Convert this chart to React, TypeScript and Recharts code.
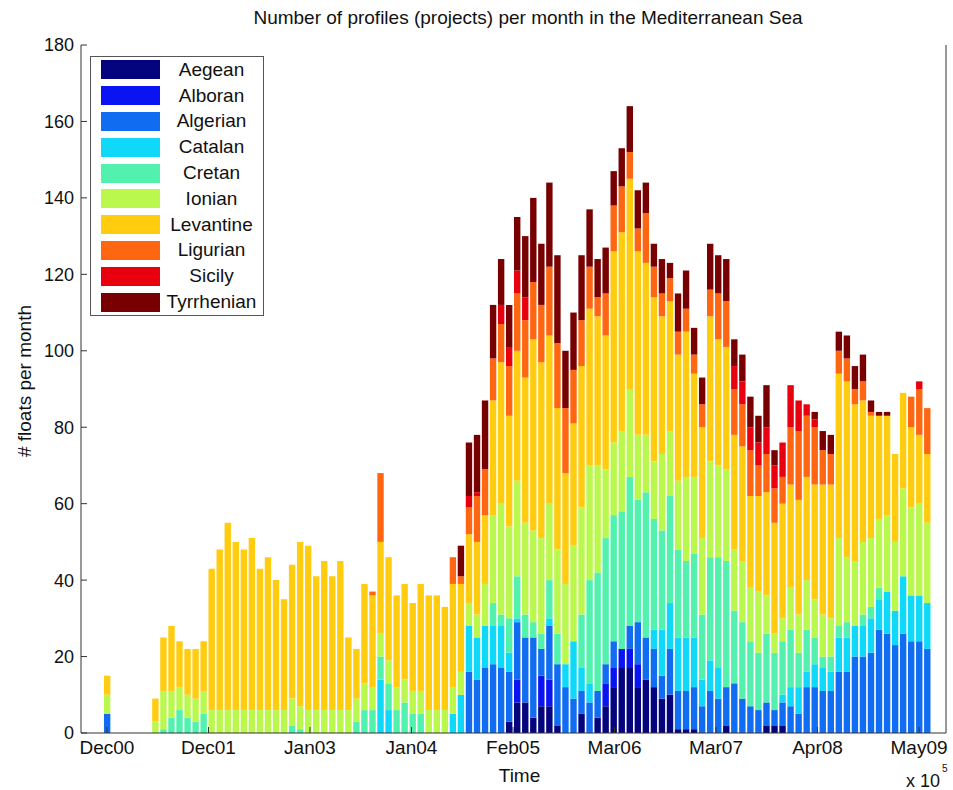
import React from "react";
import { BarChart, Bar, XAxis, YAxis, Legend, Label } from "recharts";

// Monthly profile counts per sub-basin. Index 0 = Dec 2000, last = Jun 2009.
// Rows hold twelve months each, starting from December.
const aegean = [
  0, 0, 0, 0, 0, 0, 0, 0, 0, 0, 0, 0,
  0, 0, 0, 0, 0, 0, 0, 0, 0, 0, 0, 0,
  0, 0, 0, 0, 0, 0, 0, 0, 0, 0, 0, 0,
  0, 0, 0, 0, 0, 0, 0, 0, 0, 0, 0, 0,
  0, 0, 3, 8, 8, 4, 7, 7, 2, 0, 0, 5,
  0, 4, 7, 12, 17, 17, 12, 14, 12, 9, 10, 1,
  1, 1, 0, 0, 0, 2, 0, 0, 0, 0, 2, 2,
  2, 0, 0, 0, 0, 0, 0, 0, 0, 0, 0, 0,
  0, 0, 0, 0, 0, 0, 0,
];
const alboran = [
  0, 0, 0, 0, 0, 0, 0, 0, 0, 0, 0, 0,
  0, 0, 0, 0, 0, 0, 0, 0, 0, 0, 0, 0,
  0, 0, 0, 0, 0, 0, 0, 0, 0, 0, 0, 0,
  0, 0, 0, 0, 0, 0, 0, 0, 0, 0, 0, 0,
  0, 0, 0, 6, 0, 0, 8, 7, 0, 0, 0, 0,
  0, 0, 6, 5, 5, 5, 6, 0, 0, 0, 0, 0,
  0, 0, 0, 0, 0, 0, 0, 0, 0, 0, 0, 0,
  0, 0, 0, 0, 0, 0, 0, 0, 0, 0, 0, 0,
  0, 0, 0, 0, 0, 0, 0,
];
const algerian = [
  5, 0, 0, 0, 0, 0, 0, 0, 0, 0, 0, 0,
  0, 0, 0, 0, 0, 0, 0, 0, 0, 0, 0, 0,
  0, 0, 0, 0, 0, 0, 0, 0, 0, 0, 0, 0,
  0, 0, 0, 0, 0, 0, 0, 0, 0, 16, 14, 17,
  18, 17, 13, 15, 17, 21, 7, 14, 16, 12, 9, 6,
  8, 7, 5, 7, 0, 6, 11, 11, 10, 6, 12, 10,
  10, 11, 7, 11, 9, 10, 13, 9, 7, 6, 6, 4,
  6, 7, 5, 12, 12, 11, 11, 16, 16, 20, 20, 21,
  27, 26, 23, 26, 24, 24, 22,
];
const catalan = [
  0, 0, 0, 0, 0, 0, 0, 0, 0, 0, 0, 0,
  0, 0, 0, 0, 0, 0, 0, 0, 0, 0, 0, 0,
  0, 0, 0, 0, 0, 0, 0, 0, 0, 0, 14, 6,
  0, 0, 0, 0, 0, 0, 0, 5, 10, 12, 11, 11,
  10, 11, 5, 1, 0, 0, 0, 2, 0, 6, 15, 6,
  5, 0, 0, 0, 0, 0, 0, 0, 5, 12, 12, 14,
  14, 13, 7, 8, 8, 0, 0, 0, 0, 0, 0, 0,
  2, 5, 7, 4, 6, 6, 5, 9, 9, 8, 8, 9,
  8, 11, 9, 15, 12, 12, 12,
];
const cretan = [
  0, 0, 0, 0, 0, 0, 0, 1, 4, 6, 4, 3,
  5, 0, 0, 0, 0, 0, 0, 0, 0, 0, 0, 2,
  1, 0, 0, 0, 0, 0, 0, 3, 6, 6, 6, 7,
  6, 8, 5, 5, 0, 0, 0, 0, 0, 0, 0, 0,
  6, 3, 9, 11, 6, 4, 4, 10, 8, 0, 0, 14,
  27, 31, 33, 33, 36, 39, 32, 38, 29, 26, 28, 23,
  20, 22, 17, 27, 29, 33, 19, 20, 17, 15, 18, 15,
  14, 15, 9, 11, 7, 3, 4, 3, 4, 0, 3, 3,
  3, 0, 0, 0, 0, 0, 0,
];
const ionian = [
  5, 0, 0, 0, 0, 0, 3, 10, 7, 6, 6, 6,
  6, 6, 6, 6, 6, 6, 6, 6, 6, 6, 6, 7,
  6, 6, 6, 6, 6, 6, 6, 6, 7, 6, 6, 6,
  6, 6, 6, 6, 6, 6, 6, 7, 6, 6, 6, 11,
  23, 29, 24, 25, 24, 24, 25, 20, 22, 21, 25, 28,
  30, 28, 18, 19, 21, 23, 17, 15, 15, 20, 17, 18,
  22, 20, 20, 25, 24, 24, 16, 16, 14, 16, 10, 5,
  6, 11, 10, 13, 10, 11, 10, 23, 17, 17, 19, 18,
  18, 20, 18, 23, 23, 24, 21,
];
const levantine = [
  5, 0, 0, 0, 0, 0, 6, 14, 17, 12, 12, 13,
  13, 37, 42, 49, 44, 42, 45, 37, 40, 34, 29, 35,
  43, 43, 35, 39, 35, 39, 19, 13, 26, 24, 24, 27,
  24, 25, 23, 28, 30, 30, 27, 27, 23, 18, 19, 18,
  30, 37, 29, 34, 38, 50, 46, 44, 37, 29, 32, 37,
  41, 39, 35, 50, 52, 55, 48, 45, 43, 36, 34, 33,
  38, 27, 29, 38, 33, 32, 30, 30, 24, 25, 27, 29,
  30, 27, 30, 27, 30, 34, 35, 43, 46, 41, 37, 32,
  27, 26, 23, 25, 21, 18, 18,
];
const ligurian = [
  0, 0, 0, 0, 0, 0, 0, 0, 0, 0, 0, 0,
  0, 0, 0, 0, 0, 0, 0, 0, 0, 0, 0, 0,
  0, 0, 0, 0, 0, 0, 0, 0, 0, 1, 18, 0,
  0, 0, 0, 0, 0, 0, 0, 7, 2, 7, 12, 12,
  11, 10, 13, 15, 15, 15, 15, 18, 17, 17, 14, 12,
  11, 5, 11, 12, 12, 7, 6, 13, 8, 6, 6, 6,
  6, 5, 6, 7, 12, 12, 12, 11, 12, 8, 10, 9,
  7, 15, 18, 16, 15, 9, 8, 6, 6, 4, 5, 1,
  0, 0, 0, 0, 8, 12, 12,
];
const sicily = [
  0, 0, 0, 0, 0, 0, 0, 0, 0, 0, 0, 0,
  0, 0, 0, 0, 0, 0, 0, 0, 0, 0, 0, 0,
  0, 0, 0, 0, 0, 0, 0, 0, 0, 0, 0, 0,
  0, 0, 0, 0, 0, 0, 0, 0, 0, 3, 1, 0,
  0, 5, 5, 6, 6, 0, 0, 0, 0, 0, 0, 0,
  0, 0, 0, 0, 0, 0, 0, 0, 0, 0, 0, 0,
  0, 0, 0, 0, 0, 0, 6, 6, 6, 6, 7, 6,
  9, 11, 8, 3, 2, 0, 0, 0, 0, 0, 0, 0,
  0, 0, 0, 0, 0, 2, 0,
];
const tyrrhenian = [
  0, 0, 0, 0, 0, 0, 0, 0, 0, 0, 0, 0,
  0, 0, 0, 0, 0, 0, 0, 0, 0, 0, 0, 0,
  0, 0, 0, 0, 0, 0, 0, 0, 0, 0, 0, 0,
  0, 0, 0, 0, 0, 0, 0, 0, 8, 14, 15, 18,
  14, 12, 11, 14, 16, 22, 16, 22, 23, 15, 15, 17,
  15, 10, 12, 9, 10, 12, 10, 8, 6, 9, 4, 10,
  10, 7, 7, 12, 10, 11, 7, 7, 8, 7, 11, 4,
  0, 0, 0, 0, 2, 5, 5, 5, 6, 6, 7, 3,
  1, 1, 0, 0, 0, 0, 0,
];

const REGIONS = [
  "Aegean", "Alboran", "Algerian", "Catalan", "Cretan",
  "Ionian", "Levantine", "Ligurian", "Sicily", "Tyrrhenian",
];
const COLORS = [
  "#04047e", "#0a14f2", "#106cf0", "#10d8f8", "#52f2ae",
  "#baf84e", "#ffcc10", "#ff6612", "#e8000e", "#780000",
];
const SERIES = [
  aegean, alboran, algerian, catalan, cretan,
  ionian, levantine, ligurian, sicily, tyrrhenian,
];

// date ticks, in months from Dec 2000
const tickMonths = [0, 12.625, 25.25, 37.875, 50.5, 63.125, 75.75, 88.375, 101];
const tickLabels = ["Dec00", "Dec01", "Jan03", "Jan04", "Feb05", "Mar06", "Mar07", "Apr08", "May09"];
const yTicks = [0, 20, 40, 60, 80, 100, 120, 140, 160, 180];

const TITLE = "Number of profiles (projects) per month in the Mediterranean Sea";
const X_DOMAIN: [number, number] = [-3.23, 104.35];
const FONT = '"Liberation Sans", Arial, Helvetica, sans-serif';
const AXIS = "#333";

const data = aegean.map((_, month) => {
  const row: Record<string, number> = { month };
  REGIONS.forEach((name, k) => {
    row[name] = SERIES[k][month];
  });
  return row;
});

const RegionLegend = () => (
  <div
    style={{
      width: 172,
      border: "1px solid #555",
      background: "#fff",
      fontFamily: FONT,
    }}
  >
    {REGIONS.map((name, k) => (
      <div key={name} style={{ display: "flex", alignItems: "center", height: 25.8 }}>
        <span
          style={{
            display: "inline-block",
            marginLeft: 10,
            width: 59,
            height: 19,
            background: COLORS[k],
          }}
        />
        <span style={{ flex: 1, textAlign: "center", fontSize: 19, color: "#111" }}>{name}</span>
      </div>
    ))}
  </div>
);

const YTitle = ({ viewBox }: any) => {
  const cx = viewBox.x + 4;
  const cy = viewBox.y + viewBox.height / 2 - 8;
  return (
    <text
      x={cx}
      y={cy}
      transform={`rotate(-90 ${cx} ${cy})`}
      textAnchor="middle"
      dominantBaseline="central"
      fontFamily={FONT}
      fontSize={19}
      fill="#111"
    >
      # floats per month
    </text>
  );
};

const SciNote = ({ viewBox }: any) => {
  const x = viewBox.x + viewBox.width - 40;
  const y = viewBox.y + viewBox.height - 3;
  return (
    <text x={x} y={y} fontFamily={FONT} fontSize={18} fill="#111">
      x 10
      <tspan dx={2} dy={-15} fontSize={10}>5</tspan>
    </text>
  );
};

export default function App() {
  return (
    <div style={{ position: "absolute", left: 0, top: 0, width: 953, height: 790, background: "#fff" }}>
      <div
        style={{
          position: "absolute",
          left: 528,
          top: 7,
          transform: "translateX(-50%)",
          whiteSpace: "nowrap",
          fontFamily: FONT,
          fontSize: 19,
          color: "#111",
        }}
      >
        {TITLE}
      </div>
      <BarChart
        width={953}
        height={790}
        data={data}
        margin={{ top: 45, right: 0, bottom: 0, left: 20 }}
        barCategoryGap={0}
      >
        <XAxis
          dataKey="month"
          type="number"
          domain={X_DOMAIN}
          allowDataOverflow
          ticks={tickMonths}
          interval={0}
          tickFormatter={(v: number) => tickLabels[tickMonths.indexOf(v)]}
          height={57}
          tickSize={-6}
          tickMargin={14}
          stroke={AXIS}
          tick={{ fontSize: 19, fill: "#111", fontFamily: FONT }}
        >
          <Label
            value="Time"
            position="insideBottom"
            offset={8}
            dx={6}
            style={{ fontSize: 19, fill: "#111", fontFamily: FONT }}
          />
          <Label position="insideBottomRight" content={SciNote} />
        </XAxis>
        <XAxis
          xAxisId="top"
          orientation="top"
          type="number"
          domain={X_DOMAIN}
          allowDataOverflow
          ticks={tickMonths}
          interval={0}
          tickFormatter={() => ""}
          height={0}
          tickSize={-6}
          stroke={AXIS}
        />
        <YAxis
          domain={[0, 180]}
          ticks={yTicks}
          interval={0}
          width={61}
          tickSize={-6}
          tickMargin={13}
          stroke={AXIS}
          tick={{ fontSize: 18, fill: "#111", fontFamily: FONT }}
        >
          <Label content={YTitle} />
        </YAxis>
        <YAxis
          yAxisId="right"
          orientation="right"
          domain={[0, 180]}
          ticks={yTicks}
          interval={0}
          width={7}
          tickSize={-6}
          tickFormatter={() => ""}
          stroke={AXIS}
        />
        <Legend
          layout="vertical"
          align="center"
          verticalAlign="middle"
          content={RegionLegend}
          wrapperStyle={{ left: 90, top: 56, width: 174, height: 262 }}
        />
        {REGIONS.map((name, k) => (
          <Bar
            key={name}
            dataKey={name}
            stackId="basins"
            fill={COLORS[k]}
            barSize={6.4}
            isAnimationActive={false}
          />
        ))}
      </BarChart>
    </div>
  );
}
